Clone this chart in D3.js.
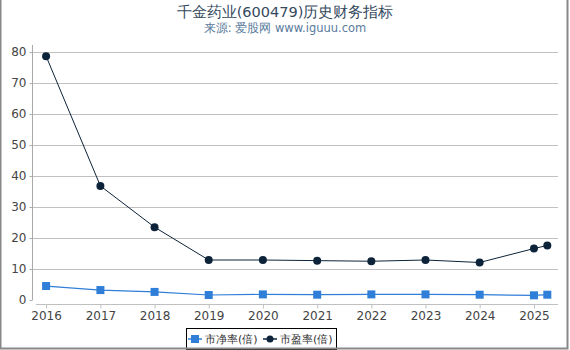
<!DOCTYPE html>
<meta charset="utf-8">
<style>
body { margin: 0; background: #fff; }
svg { font-family: "DejaVu Sans", sans-serif; }
.grid line { stroke: #c0c0c0; }
</style>
<body>
<div id="chart"></div>
<script src="https://cdn.jsdelivr.net/npm/d3@7"></script>
<script>

// data
var dates = ["2016-01-01","2017-01-01","2018-01-01","2019-01-01","2020-01-01",
             "2021-01-01","2022-01-01","2023-01-01","2024-01-01","2025-01-01","2025-04-01"];
var pb = [4.5, 3.2, 2.6, 1.6, 1.8, 1.7, 1.8, 1.8, 1.7, 1.5, 1.7];
var pe = [78.7, 36.8, 23.5, 12.9, 12.9, 12.7, 12.5, 12.9, 12.1, 16.6, 17.6];
var yTicks = [0, 10, 20, 30, 40, 50, 60, 70, 80];
var xTickYears = [2016, 2017, 2018, 2019, 2020, 2021, 2022, 2023, 2024, 2025];

var W = 570, H = 350;
var parse = d3.timeParse("%Y-%m-%d");
var pts = dates.map(function(d, i) { return {date: parse(d), pb: pb[i], pe: pe[i]}; });

var svg = d3.select("#chart").append("svg")
    .attr("width", W)
    .attr("height", H);

var x = d3.scaleTime()
    .domain([new Date(2015, 9, 25), new Date(2025, 5, 12)])
    .range([36, 558]);

var y = d3.scaleLinear()
    .domain([-1.3, 82.3])
    .range([304, 45]);

// grid
svg.append("g").attr("class", "grid")
  .selectAll("line")
  .data(yTicks.filter(function(d) { return d > 0; }))
  .enter().append("line")
    .attr("x1", 33).attr("x2", 558)
    .attr("y1", function(d) { return Math.round(y(d)) + 0.5; })
    .attr("y2", function(d) { return Math.round(y(d)) + 0.5; });

// y axis
var yAxis = d3.axisLeft(y).tickValues(yTicks).tickSize(3).tickPadding(3);
var gy = svg.append("g")
    .attr("class", "y axis")
    .attr("transform", "translate(32.5,0)")
    .call(yAxis);
gy.select(".domain").attr("d", "M0," + y(82.3) + "V" + y(0)).attr("stroke", "#aaa");
gy.selectAll(".tick line").attr("stroke", "#aaa");

// x axis
var xAxis = d3.axisBottom(x)
    .tickValues(xTickYears.map(function(yr) { return new Date(yr, 0, 1); }))
    .tickFormat(d3.timeFormat("%Y"))
    .tickSize(4).tickPadding(3);
var gx = svg.append("g")
    .attr("class", "x axis")
    .attr("transform", "translate(0,304.5)")
    .call(xAxis);
gx.select(".domain").attr("d", "M36,0H558").attr("stroke", "#c0c0c0");
gx.selectAll(".tick line").attr("stroke", "#c0c0c0");

svg.selectAll(".axis")
    .attr("font-family", "DejaVu Sans, sans-serif")
    .attr("font-size", 12);
svg.selectAll(".axis text").attr("fill", "#444");

// lines
var linePb = d3.line().x(function(d) { return x(d.date); }).y(function(d) { return y(d.pb); });
var linePe = d3.line().x(function(d) { return x(d.date); }).y(function(d) { return y(d.pe); });

svg.append("path").datum(pts)
    .attr("fill", "none").attr("stroke", "#2f7ed8").attr("stroke-width", 1.2)
    .attr("d", linePb);
svg.append("path").datum(pts)
    .attr("fill", "none").attr("stroke", "#0d233a").attr("stroke-width", 1)
    .attr("d", linePe);

svg.selectAll(".sq")
    .data(pts)
  .enter().append("rect")
    .attr("class", "sq")
    .attr("x", function(d) { return x(d.date) - 4; })
    .attr("y", function(d) { return y(d.pb) - 4; })
    .attr("width", 8).attr("height", 8)
    .attr("fill", "#2f7ed8");

svg.selectAll(".dot")
    .data(pts)
  .enter().append("circle")
    .attr("class", "dot")
    .attr("cx", function(d) { return x(d.date); })
    .attr("cy", function(d) { return y(d.pe); })
    .attr("r", 4)
    .attr("fill", "#0d233a");

// titles
svg.append("text")
    .attr("x", 285).attr("y", 17)
    .attr("text-anchor", "middle")
    .style("font-size", "14.5px")
    .style("fill", "#34495e")
    .text("千金药业(600479)历史财务指标");
svg.append("text")
    .attr("x", 285).attr("y", 32)
    .attr("text-anchor", "middle")
    .style("font-size", "11.5px")
    .style("fill", "#5a7a9c")
    .text("来源: 爱股网 www.iguuu.com");

// legend
var lg = svg.append("g");
lg.append("rect")
    .attr("x", 186.5).attr("y", 328.5).attr("width", 150).attr("height", 21)
    .attr("fill", "#fff").attr("stroke", "#000");
lg.append("line").attr("x1", 188).attr("x2", 202).attr("y1", 339).attr("y2", 339)
    .attr("stroke", "#2f7ed8").attr("stroke-width", 1.5);
lg.append("rect").attr("x", 191).attr("y", 335).attr("width", 8).attr("height", 8).attr("fill", "#2f7ed8");
lg.append("text").attr("x", 205).attr("y", 343).style("font-size", "11px").style("fill", "#333").text("市净率(倍)");
lg.append("line").attr("x1", 263).attr("x2", 277).attr("y1", 339).attr("y2", 339)
    .attr("stroke", "#0d233a").attr("stroke-width", 1.5);
lg.append("circle").attr("cx", 270).attr("cy", 339).attr("r", 3.5).attr("fill", "#0d233a");
lg.append("text").attr("x", 280).attr("y", 343).style("font-size", "11px").style("fill", "#333").text("市盈率(倍)");

// outer frame
svg.append("path")
    .attr("d", "M0.5,0V348.5H567.5V0")
    .attr("fill", "none").attr("stroke", "#888").attr("stroke-width", 2);

</script>
